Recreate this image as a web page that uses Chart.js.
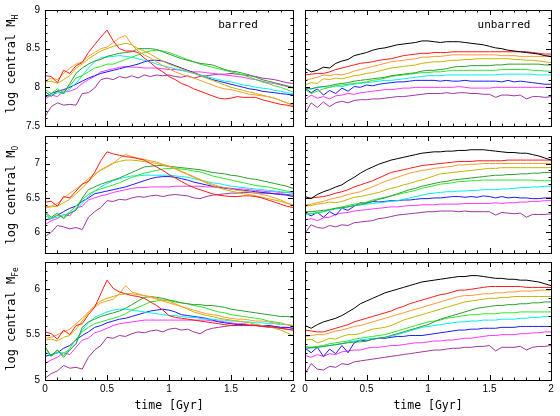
<!DOCTYPE html>
<html>
<head>
<meta charset="utf-8">
<script src="https://cdn.jsdelivr.net/npm/chart.js@4.4.1/dist/chart.umd.min.js"></script>
<style>
    body { margin: 0; width: 560px; height: 416px; background: #fff; position: relative; overflow: hidden; }
    canvas { position: absolute; }
    .txt { position: absolute; white-space: nowrap; color: #000; font-family: "DejaVu Sans Mono", monospace; transform: translate(-50%, -50%); }
    .ytitle { font-size: 12px; transform: translate(-50%, -50%) rotate(-90deg); }
    .ytitle sub { font-size: 8px; }
    .xtitle { font-size: 11.5px; }
    .tag { font-size: 11px; }
</style>
</head>
<body>
<canvas id="hBar" width="300" height="132" style="left:0;top:0"></canvas>
<canvas id="hUnb" width="260" height="132" style="left:300px;top:0"></canvas>
<canvas id="oBar" width="300" height="127" style="left:0;top:132px"></canvas>
<canvas id="oUnb" width="260" height="127" style="left:300px;top:132px"></canvas>
<canvas id="feBar" width="300" height="157" style="left:0;top:259px"></canvas>
<canvas id="feUnb" width="260" height="157" style="left:300px;top:259px"></canvas>

<div class="txt ytitle" style="left:12px;top:64px">log central M<sub>H</sub></div>
<div class="txt ytitle" style="left:12px;top:195px">log central M<sub>O</sub></div>
<div class="txt ytitle" style="left:12px;top:319px">log central M<sub>Fe</sub></div>
<div class="txt tag" style="left:238px;top:24px">barred</div>
<div class="txt tag" style="left:504px;top:24px">unbarred</div>
<div class="txt xtitle" style="left:169px;top:405px">time [Gyr]</div>
<div class="txt xtitle" style="left:428px;top:405px">time [Gyr]</div>

<script>
// time axis [Gyr]
const time = [0,0.05,0.1,0.15,0.2,0.25,0.3,0.35,0.4,0.45,0.5,0.55,0.6,0.65,0.7,0.75,0.8,0.85,0.9,0.95,
    1,1.05,1.1,1.15,1.2,1.25,1.3,1.35,1.4,1.45,1.5,1.55,1.6,1.65,1.7,1.75,1.8,1.85,1.9,1.95,2];

// --- log central M_H, barred ---
const hBarRed = [8.15,8.14,8.06,8.22,8.18,8.28,8.32,8.45,8.55,8.65,8.74,8.60,8.50,8.47,8.47,8.45,8.38,8.32,8.25,8.20,8.14,8.10,8.05,8.02,7.98,7.95,7.92,7.89,7.86,7.85,7.86,7.88,7.87,7.87,7.87,7.84,7.82,7.80,7.78,7.77,7.75];
const hBarOrange = [8.08,8.12,8.10,8.18,8.25,8.30,8.33,8.40,8.45,8.50,8.52,8.58,8.64,8.67,8.55,8.47,8.42,8.38,8.33,8.28,8.24,8.20,8.17,8.14,8.12,8.09,8.06,8.03,8.00,7.98,7.97,7.95,7.93,7.91,7.90,7.89,7.88,7.86,7.83,7.80,7.76];
const hBarGold = [8.07,8.08,8.05,8.10,8.15,8.25,8.30,8.37,8.42,8.47,8.50,8.53,8.55,8.57,8.55,8.50,8.47,8.43,8.38,8.34,8.30,8.27,8.24,8.21,8.18,8.15,8.12,8.09,8.06,8.03,8.00,7.98,7.96,7.94,7.92,7.90,7.88,7.86,7.83,7.80,7.77];
const hBarDkGreen = [7.95,7.88,7.95,7.92,8.05,8.18,8.25,8.30,8.34,8.36,8.40,8.42,8.44,8.45,8.46,8.50,8.50,8.50,8.49,8.46,8.43,8.40,8.37,8.35,8.33,8.31,8.30,8.29,8.26,8.23,8.21,8.20,8.18,8.16,8.13,8.10,8.08,8.06,8.04,8.02,8.00];
const hBarGreen = [7.97,7.92,7.98,7.93,8.02,8.12,8.15,8.20,8.25,8.27,8.30,8.30,8.33,8.36,8.39,8.42,8.45,8.47,8.48,8.47,8.45,8.42,8.39,8.36,8.33,8.30,8.28,8.26,8.24,8.22,8.20,8.18,8.16,8.13,8.10,8.07,8.05,8.02,8.00,7.97,7.94];
const hBarCyan = [7.93,7.90,7.93,7.92,7.98,8.05,8.15,8.25,8.33,8.38,8.39,8.40,8.41,8.40,8.39,8.37,8.35,8.33,8.30,8.28,8.26,8.24,8.22,8.20,8.18,8.16,8.14,8.12,8.10,8.08,8.07,8.05,8.03,8.02,8.00,7.99,7.98,7.96,7.95,7.93,7.92];
const hBarBlue = [7.87,7.92,7.95,7.97,8.00,8.04,8.08,8.12,8.15,8.18,8.20,8.22,8.24,8.26,8.28,8.30,8.33,8.35,8.35,8.34,8.31,8.28,8.25,8.22,8.19,8.16,8.13,8.10,8.08,8.06,8.04,8.02,8.00,7.98,7.97,7.95,7.94,7.93,7.92,7.91,7.90];
const hBarMagenta = [7.85,7.90,7.88,7.95,7.95,7.98,8.05,8.10,8.14,8.20,8.22,8.24,8.26,8.27,8.26,8.26,8.25,8.25,8.25,8.24,8.23,8.23,8.22,8.21,8.20,8.20,8.19,8.18,8.17,8.16,8.15,8.14,8.13,8.11,8.10,8.08,8.06,8.05,8.03,8.01,7.99];
const hBarPurple = [7.62,7.75,7.80,7.77,7.78,7.77,7.92,7.93,7.99,8.10,8.12,8.10,8.14,8.12,8.15,8.12,8.16,8.14,8.16,8.15,8.16,8.14,8.13,8.15,8.12,8.14,8.15,8.16,8.17,8.17,8.18,8.17,8.16,8.15,8.14,8.12,8.11,8.10,8.08,8.06,8.05];

// --- log central M_H, unbarred ---
const hUnbBlack = [8.25,8.20,8.22,8.26,8.25,8.31,8.34,8.36,8.41,8.43,8.45,8.48,8.50,8.51,8.53,8.55,8.56,8.57,8.58,8.60,8.60,8.59,8.58,8.59,8.59,8.59,8.58,8.57,8.56,8.55,8.53,8.51,8.50,8.48,8.47,8.46,8.45,8.44,8.43,8.41,8.40];
const hUnbRed = [8.16,8.17,8.18,8.18,8.20,8.23,8.25,8.27,8.29,8.31,8.32,8.33,8.35,8.36,8.37,8.39,8.41,8.42,8.43,8.44,8.44,8.45,8.45,8.45,8.46,8.46,8.46,8.46,8.46,8.46,8.46,8.46,8.46,8.46,8.46,8.46,8.46,8.45,8.44,8.43,8.43];
const hUnbOrange = [8.09,8.11,8.13,8.16,8.15,8.17,8.16,8.18,8.21,8.23,8.25,8.27,8.29,8.31,8.33,8.34,8.35,8.36,8.37,8.39,8.39,8.40,8.40,8.41,8.42,8.42,8.42,8.42,8.42,8.42,8.42,8.42,8.41,8.41,8.41,8.40,8.40,8.40,8.40,8.40,8.40];
const hUnbGold = [8.03,8.06,8.05,8.11,8.10,8.12,8.11,8.13,8.15,8.16,8.18,8.19,8.21,8.23,8.25,8.26,8.27,8.28,8.29,8.31,8.32,8.33,8.33,8.34,8.35,8.35,8.36,8.36,8.37,8.37,8.37,8.37,8.37,8.37,8.36,8.36,8.35,8.35,8.34,8.33,8.32];
const hUnbDkGreen = [7.99,7.98,8.00,8.01,8.02,8.04,8.05,8.06,8.08,8.09,8.10,8.11,8.12,8.13,8.15,8.16,8.17,8.18,8.19,8.21,8.22,8.22,8.23,8.24,8.26,8.27,8.27,8.28,8.28,8.28,8.28,8.29,8.29,8.30,8.30,8.30,8.30,8.30,8.30,8.29,8.29];
const hUnbGreen = [7.97,7.92,7.95,7.98,8.00,8.02,8.03,8.04,8.05,8.06,8.07,8.09,8.10,8.12,8.14,8.15,8.16,8.17,8.18,8.19,8.19,8.20,8.20,8.21,8.22,8.22,8.22,8.22,8.22,8.22,8.22,8.22,8.23,8.23,8.23,8.23,8.23,8.22,8.22,8.21,8.21];
const hUnbCyan = [7.99,7.98,8.00,8.01,8.00,8.02,8.01,8.03,8.04,8.05,8.06,8.07,8.08,8.09,8.09,8.10,8.11,8.12,8.13,8.14,8.15,8.15,8.15,8.16,8.16,8.16,8.16,8.16,8.16,8.16,8.16,8.16,8.17,8.17,8.17,8.17,8.17,8.17,8.16,8.16,8.16];
const hUnbBlue = [7.99,7.93,7.98,7.90,7.96,7.92,7.99,7.95,8.01,8.00,8.03,8.02,8.04,8.05,8.06,8.07,8.07,8.08,8.09,8.09,8.09,8.09,8.08,8.09,8.08,8.08,8.09,8.08,8.08,8.08,8.08,8.08,8.07,8.09,8.07,8.08,8.07,8.06,8.05,8.04,8.04];
const hUnbMagenta = [7.84,7.90,7.86,7.88,7.85,7.89,7.90,7.92,7.91,7.93,7.94,7.95,7.96,7.97,7.97,7.98,7.99,7.99,8.00,8.00,8.00,8.00,8.00,8.00,8.00,8.01,8.00,7.99,7.99,7.99,7.99,8.00,8.00,8.00,8.00,8.00,8.00,8.00,8.00,8.00,8.00];
const hUnbPurple = [7.66,7.80,7.74,7.81,7.75,7.80,7.82,7.80,7.83,7.84,7.84,7.85,7.85,7.86,7.87,7.88,7.88,7.89,7.90,7.91,7.92,7.92,7.92,7.93,7.92,7.93,7.93,7.92,7.92,7.91,7.91,7.87,7.90,7.90,7.89,7.90,7.85,7.88,7.88,7.87,7.88];

// --- log central M_O, barred ---
const oBarRed = [6.44,6.45,6.38,6.52,6.50,6.60,6.70,6.74,6.87,7.04,7.17,7.14,7.12,7.10,7.09,7.07,7.05,7.00,6.95,6.90,6.84,6.79,6.74,6.69,6.65,6.62,6.59,6.56,6.54,6.53,6.52,6.52,6.53,6.53,6.52,6.50,6.47,6.44,6.41,6.38,6.36];
const oBarOrange = [6.37,6.38,6.42,6.50,6.57,6.63,6.70,6.78,6.85,6.90,6.95,7.00,7.08,7.13,7.10,7.08,7.06,7.04,7.02,6.99,6.96,6.93,6.89,6.85,6.81,6.77,6.73,6.70,6.67,6.65,6.63,6.61,6.60,6.59,6.57,6.55,6.53,6.50,6.47,6.43,6.40];
const oBarGold = [6.36,6.37,6.38,6.43,6.48,6.56,6.64,6.74,6.83,6.91,6.96,7.01,7.03,7.05,7.05,7.04,7.03,7.02,7.00,6.98,6.96,6.92,6.88,6.84,6.80,6.76,6.72,6.68,6.65,6.62,6.60,6.58,6.56,6.55,6.53,6.51,6.49,6.47,6.45,6.42,6.40];
const oBarDkGreen = [6.30,6.22,6.28,6.20,6.28,6.32,6.50,6.62,6.66,6.70,6.73,6.76,6.79,6.83,6.87,6.91,6.95,6.96,6.97,6.97,6.96,6.95,6.94,6.93,6.92,6.91,6.89,6.87,6.86,6.85,6.83,6.82,6.80,6.78,6.77,6.75,6.73,6.71,6.69,6.67,6.64];
const oBarGreen = [6.28,6.20,6.25,6.22,6.30,6.38,6.48,6.55,6.60,6.63,6.66,6.69,6.72,6.76,6.80,6.83,6.86,6.88,6.90,6.92,6.93,6.93,6.92,6.91,6.89,6.88,6.85,6.82,6.80,6.78,6.76,6.74,6.72,6.70,6.68,6.67,6.66,6.64,6.62,6.60,6.59];
const oBarCyan = [6.24,6.20,6.22,6.25,6.28,6.33,6.42,6.52,6.60,6.66,6.71,6.75,6.78,6.80,6.82,6.82,6.83,6.83,6.83,6.83,6.83,6.82,6.81,6.80,6.78,6.76,6.74,6.72,6.71,6.69,6.67,6.66,6.65,6.64,6.63,6.62,6.61,6.60,6.59,6.58,6.57];
const oBarBlue = [6.18,6.20,6.25,6.30,6.35,6.38,6.45,6.50,6.56,6.58,6.60,6.62,6.64,6.66,6.69,6.72,6.75,6.78,6.80,6.81,6.81,6.80,6.78,6.76,6.73,6.71,6.69,6.67,6.66,6.64,6.63,6.62,6.61,6.60,6.59,6.58,6.57,6.56,6.55,6.54,6.52];
const oBarMagenta = [6.11,6.17,6.20,6.26,6.24,6.35,6.38,6.47,6.50,6.53,6.55,6.58,6.60,6.62,6.64,6.65,6.65,6.66,6.66,6.66,6.66,6.67,6.67,6.67,6.67,6.67,6.66,6.66,6.65,6.65,6.64,6.63,6.63,6.62,6.61,6.60,6.59,6.59,6.58,6.58,6.57];
const oBarPurple = [5.94,6.00,6.10,6.08,6.05,6.07,6.04,6.22,6.30,6.36,6.46,6.45,6.48,6.47,6.50,6.52,6.51,6.53,6.54,6.52,6.54,6.55,6.54,6.53,6.50,6.49,6.52,6.54,6.55,6.56,6.57,6.57,6.58,6.58,6.57,6.57,6.57,6.56,6.56,6.55,6.54];

// --- log central M_O, unbarred ---
const oUnbBlack = [6.52,6.49,6.55,6.59,6.62,6.66,6.69,6.75,6.80,6.86,6.91,6.95,6.99,7.02,7.05,7.07,7.09,7.11,7.13,7.15,7.16,7.17,7.17,7.18,7.18,7.19,7.19,7.20,7.20,7.20,7.19,7.18,7.17,7.16,7.16,7.15,7.15,7.13,7.11,7.08,7.05];
const oUnbRed = [6.49,6.50,6.51,6.52,6.54,6.57,6.59,6.62,6.66,6.69,6.72,6.75,6.79,6.83,6.87,6.89,6.91,6.93,6.95,6.97,6.98,6.99,7.00,7.01,7.02,7.03,7.03,7.03,7.04,7.04,7.04,7.04,7.04,7.05,7.05,7.05,7.05,7.05,7.05,7.05,7.05];
const oUnbOrange = [6.40,6.41,6.43,6.45,6.48,6.50,6.52,6.55,6.57,6.59,6.63,6.66,6.70,6.74,6.77,6.80,6.83,6.86,6.88,6.90,6.91,6.93,6.94,6.95,6.96,6.98,6.98,6.99,6.99,7.00,7.00,7.00,7.00,7.00,7.00,7.00,7.00,7.00,7.00,7.00,7.00];
const oUnbGold = [6.38,6.39,6.41,6.42,6.44,6.43,6.45,6.48,6.51,6.52,6.54,6.56,6.58,6.61,6.64,6.66,6.69,6.71,6.74,6.76,6.79,6.82,6.85,6.86,6.87,6.88,6.89,6.90,6.91,6.92,6.93,6.93,6.94,6.94,6.94,6.94,6.94,6.94,6.94,6.94,6.94];
const oUnbDkGreen = [6.30,6.30,6.31,6.32,6.33,6.35,6.36,6.37,6.39,6.40,6.43,6.45,6.48,6.50,6.53,6.56,6.59,6.62,6.64,6.67,6.69,6.71,6.73,6.74,6.76,6.77,6.78,6.79,6.80,6.81,6.82,6.83,6.83,6.84,6.84,6.85,6.85,6.86,6.86,6.87,6.87];
const oUnbGreen = [6.28,6.27,6.29,6.30,6.33,6.35,6.37,6.39,6.41,6.42,6.44,6.47,6.49,6.51,6.53,6.55,6.57,6.59,6.61,6.64,6.66,6.68,6.70,6.71,6.72,6.74,6.74,6.75,6.75,6.76,6.76,6.76,6.76,6.76,6.76,6.76,6.76,6.76,6.75,6.75,6.75];
const oUnbCyan = [6.25,6.27,6.28,6.30,6.32,6.34,6.35,6.37,6.39,6.40,6.41,6.42,6.43,6.44,6.45,6.46,6.48,6.50,6.52,6.54,6.56,6.57,6.58,6.59,6.59,6.60,6.60,6.61,6.61,6.62,6.62,6.62,6.63,6.63,6.64,6.65,6.65,6.66,6.66,6.67,6.67];
const oUnbBlue = [6.28,6.24,6.29,6.22,6.30,6.25,6.35,6.32,6.38,6.43,6.42,6.45,6.44,6.45,6.46,6.46,6.47,6.47,6.48,6.49,6.49,6.50,6.50,6.51,6.52,6.52,6.51,6.52,6.51,6.53,6.52,6.50,6.52,6.50,6.51,6.50,6.50,6.49,6.49,6.50,6.50];
const oUnbMagenta = [6.18,6.20,6.17,6.21,6.22,6.26,6.28,6.29,6.31,6.32,6.33,6.34,6.35,6.36,6.37,6.37,6.38,6.39,6.39,6.40,6.40,6.40,6.41,6.41,6.41,6.41,6.42,6.42,6.42,6.42,6.42,6.43,6.42,6.43,6.43,6.44,6.44,6.45,6.45,6.46,6.46];
const oUnbPurple = [5.99,6.11,6.07,6.06,6.10,6.08,6.11,6.10,6.14,6.15,6.16,6.17,6.20,6.21,6.23,6.25,6.26,6.27,6.28,6.29,6.30,6.30,6.31,6.31,6.31,6.30,6.31,6.30,6.30,6.30,6.30,6.25,6.29,6.28,6.27,6.28,6.22,6.26,6.26,6.26,6.27];

// --- log central M_Fe, barred ---
const feBarRed = [5.53,5.51,5.45,5.55,5.50,5.60,5.62,5.72,5.80,5.95,6.10,6.01,5.97,5.95,5.93,5.92,5.90,5.86,5.82,5.77,5.71,5.69,5.68,5.67,5.66,5.65,5.64,5.63,5.62,5.61,5.60,5.60,5.60,5.60,5.60,5.59,5.59,5.58,5.57,5.56,5.55];
const feBarOrange = [5.46,5.47,5.50,5.53,5.56,5.62,5.68,5.75,5.80,5.85,5.87,5.89,5.95,6.04,5.97,5.95,5.93,5.91,5.89,5.87,5.85,5.83,5.81,5.79,5.77,5.75,5.73,5.72,5.71,5.69,5.68,5.67,5.67,5.66,5.65,5.65,5.64,5.63,5.62,5.61,5.60];
const feBarGold = [5.44,5.45,5.43,5.47,5.49,5.56,5.65,5.74,5.82,5.87,5.90,5.92,5.94,5.95,5.95,5.94,5.93,5.92,5.90,5.88,5.87,5.84,5.81,5.78,5.75,5.73,5.71,5.70,5.68,5.67,5.66,5.65,5.64,5.63,5.61,5.60,5.59,5.57,5.55,5.52,5.49];
const feBarDkGreen = [5.37,5.26,5.33,5.25,5.33,5.40,5.58,5.64,5.67,5.70,5.72,5.74,5.76,5.79,5.83,5.87,5.91,5.92,5.91,5.90,5.88,5.86,5.85,5.84,5.83,5.83,5.82,5.82,5.81,5.80,5.78,5.77,5.76,5.75,5.74,5.73,5.72,5.71,5.70,5.70,5.69];
const feBarGreen = [5.35,5.27,5.33,5.27,5.35,5.45,5.53,5.58,5.62,5.64,5.66,5.68,5.70,5.73,5.77,5.80,5.83,5.86,5.87,5.88,5.88,5.87,5.85,5.84,5.82,5.81,5.79,5.77,5.75,5.74,5.72,5.71,5.70,5.69,5.68,5.67,5.65,5.64,5.63,5.61,5.60];
const feBarCyan = [5.31,5.27,5.30,5.30,5.33,5.40,5.55,5.63,5.69,5.72,5.75,5.77,5.78,5.78,5.77,5.76,5.75,5.74,5.73,5.72,5.71,5.71,5.70,5.69,5.69,5.68,5.67,5.67,5.66,5.66,5.65,5.65,5.64,5.64,5.63,5.63,5.62,5.62,5.61,5.61,5.60];
const feBarBlue = [5.26,5.28,5.30,5.35,5.38,5.44,5.49,5.53,5.58,5.60,5.63,5.65,5.67,5.68,5.70,5.72,5.74,5.76,5.77,5.78,5.77,5.75,5.72,5.71,5.70,5.69,5.68,5.66,5.64,5.63,5.62,5.61,5.61,5.60,5.60,5.60,5.60,5.59,5.58,5.58,5.57];
const feBarMagenta = [5.18,5.22,5.25,5.30,5.28,5.36,5.44,5.46,5.52,5.54,5.57,5.60,5.62,5.63,5.64,5.65,5.66,5.66,5.66,5.66,5.66,5.66,5.66,5.66,5.66,5.66,5.66,5.65,5.65,5.64,5.63,5.62,5.62,5.61,5.61,5.60,5.60,5.59,5.58,5.58,5.57];
const feBarPurple = [5.02,5.07,5.10,5.16,5.13,5.14,5.12,5.25,5.33,5.38,5.47,5.46,5.49,5.48,5.51,5.53,5.52,5.54,5.55,5.53,5.56,5.57,5.55,5.56,5.53,5.51,5.55,5.57,5.58,5.59,5.60,5.60,5.61,5.60,5.60,5.59,5.58,5.58,5.57,5.56,5.55];

// --- log central M_Fe, unbarred ---
const feUnbBlack = [5.60,5.57,5.61,5.64,5.66,5.68,5.71,5.75,5.79,5.84,5.87,5.90,5.93,5.96,5.98,6.00,6.02,6.04,6.06,6.08,6.09,6.10,6.11,6.12,6.13,6.14,6.14,6.15,6.15,6.14,6.13,6.12,6.12,6.11,6.11,6.10,6.10,6.09,6.08,6.06,6.04];
const feUnbRed = [5.55,5.54,5.53,5.53,5.55,5.57,5.59,5.61,5.64,5.66,5.68,5.70,5.72,5.74,5.76,5.79,5.81,5.84,5.86,5.88,5.90,5.92,5.94,5.95,5.97,5.99,5.99,6.00,6.01,6.02,6.03,6.03,6.03,6.03,6.03,6.03,6.02,6.02,6.02,6.02,6.02];
const feUnbOrange = [5.48,5.49,5.50,5.50,5.52,5.54,5.55,5.57,5.59,5.60,5.62,5.64,5.66,5.68,5.70,5.72,5.74,5.76,5.78,5.80,5.82,5.84,5.86,5.88,5.90,5.92,5.93,5.93,5.94,5.95,5.95,5.96,5.96,5.97,5.97,5.98,5.98,5.98,5.99,5.99,5.99];
const feUnbGold = [5.44,5.45,5.41,5.43,5.46,5.45,5.48,5.50,5.50,5.51,5.54,5.56,5.57,5.58,5.60,5.63,5.66,5.68,5.70,5.72,5.74,5.76,5.78,5.80,5.82,5.84,5.86,5.87,5.88,5.89,5.90,5.90,5.91,5.91,5.92,5.92,5.92,5.92,5.92,5.92,5.92];
const feUnbDkGreen = [5.35,5.36,5.36,5.37,5.38,5.39,5.40,5.41,5.42,5.42,5.43,5.45,5.46,5.47,5.49,5.51,5.53,5.55,5.57,5.59,5.61,5.64,5.67,5.69,5.71,5.73,5.75,5.77,5.79,5.80,5.81,5.82,5.82,5.83,5.83,5.84,5.84,5.85,5.85,5.86,5.86];
const feUnbGreen = [5.37,5.36,5.37,5.38,5.40,5.41,5.42,5.43,5.45,5.46,5.47,5.48,5.49,5.50,5.52,5.54,5.56,5.58,5.60,5.62,5.64,5.65,5.66,5.68,5.69,5.70,5.71,5.72,5.72,5.73,5.73,5.73,5.74,5.74,5.74,5.75,5.75,5.75,5.75,5.75,5.75];
const feUnbCyan = [5.35,5.35,5.36,5.37,5.38,5.39,5.40,5.42,5.43,5.44,5.45,5.46,5.46,5.47,5.48,5.50,5.52,5.54,5.56,5.58,5.59,5.60,5.61,5.62,5.63,5.64,5.64,5.65,5.65,5.66,5.66,5.66,5.67,5.67,5.67,5.68,5.68,5.69,5.69,5.70,5.70];
const feUnbBlue = [5.35,5.30,5.36,5.26,5.34,5.29,5.38,5.30,5.41,5.44,5.43,5.45,5.46,5.46,5.47,5.48,5.48,5.49,5.49,5.49,5.50,5.51,5.52,5.53,5.54,5.55,5.55,5.56,5.56,5.57,5.57,5.57,5.58,5.58,5.58,5.59,5.59,5.59,5.59,5.59,5.59];
const feUnbMagenta = [5.27,5.25,5.28,5.26,5.29,5.28,5.31,5.32,5.33,5.33,5.35,5.36,5.36,5.37,5.38,5.38,5.39,5.40,5.41,5.41,5.42,5.43,5.43,5.44,5.44,5.45,5.46,5.46,5.47,5.48,5.49,5.49,5.50,5.50,5.50,5.51,5.51,5.52,5.52,5.53,5.53];
const feUnbPurple = [5.07,5.18,5.12,5.11,5.15,5.14,5.18,5.17,5.20,5.21,5.22,5.23,5.24,5.25,5.26,5.27,5.28,5.29,5.30,5.31,5.32,5.33,5.33,5.34,5.35,5.35,5.36,5.36,5.37,5.37,5.38,5.32,5.36,5.36,5.36,5.37,5.33,5.36,5.37,5.37,5.38];

const barColors = ['#ff1a1a', '#ff9a30', '#c8b400', '#2e9e2e', '#2ee62e', '#00f0f0', '#1a1aff', '#ff36ff', '#a035a0'];
const unbColors = ['#000000'].concat(barColors);

// frame with inward ticks (PGPLOT style), labels only where asked
const frameTicks = {
    id: 'frameTicks',
    afterDraw(chart, args, opts) {
        const ctx = chart.ctx;
        const a = chart.chartArea;
        const xs = chart.scales.x, ys = chart.scales.y;
        const L = Math.round(a.left), R = Math.round(a.right), T = Math.round(a.top), B = Math.round(a.bottom);
        ctx.save();
        ctx.strokeStyle = '#000';
        ctx.lineWidth = 1;
        ctx.beginPath();
        for (let i = 0; i <= 20; i++) {
            const px = Math.round(xs.getPixelForValue(i / 10)) + 0.5;
            const len = i % 5 === 0 ? 5 : 2.5;
            ctx.moveTo(px, B); ctx.lineTo(px, B - len);
            ctx.moveTo(px, T); ctx.lineTo(px, T + len);
        }
        const lo = Math.ceil(ys.min * 10 - 1e-6), hi = Math.floor(ys.max * 10 + 1e-6);
        for (let k = lo; k <= hi; k++) {
            const py = Math.round(ys.getPixelForValue(k / 10)) + 0.5;
            const len = k % 5 === 0 ? 5 : 2.5;
            ctx.moveTo(L, py); ctx.lineTo(L + len, py);
            ctx.moveTo(R, py); ctx.lineTo(R - len, py);
        }
        ctx.stroke();
        ctx.strokeRect(L + 0.5, T + 0.5, R - L, B - T);

        ctx.fillStyle = '#000';
        ctx.font = '10px "Liberation Sans"';
        if (opts.yLabels) {
            ctx.textAlign = 'right';
            ctx.textBaseline = 'middle';
            for (let k = lo; k <= hi; k++) {
                if (k % 5 !== 0) continue;
                ctx.fillText(String(+(k / 10).toFixed(1)), L - 5, ys.getPixelForValue(k / 10));
            }
        }
        if (opts.xLabels) {
            ctx.textAlign = 'center';
            ctx.textBaseline = 'top';
            for (let i = 0; i <= 20; i += 5) {
                ctx.fillText(String(i / 10), xs.getPixelForValue(i / 10), B + 4);
            }
        }
        ctx.restore();
    }
};

function makePanel(id, lines, colors, yMin, yMax, pad, ticks) {
    new Chart(document.getElementById(id), {
        type: 'line',
        data: {
            labels: time,
            datasets: lines.map((d, i) => ({
                data: d,
                borderColor: colors[i],
                borderWidth: 1,
                pointRadius: 0,
                fill: false,
                tension: 0
            }))
        },
        options: {
            responsive: false,
            animation: false,
            layout: { padding: pad },
            scales: {
                x: { type: 'linear', min: 0, max: 2, display: false },
                y: { min: yMin, max: yMax, display: false }
            },
            plugins: {
                legend: { display: false },
                tooltip: { enabled: false },
                frameTicks: ticks
            }
        },
        plugins: [frameTicks]
    });
}

const padL = (t, b) => ({ left: 45, right: 7, top: t, bottom: b });
const padR = (t, b) => ({ left: 5, right: 9, top: t, bottom: b });

makePanel('hBar', [hBarRed, hBarOrange, hBarGold, hBarDkGreen, hBarGreen, hBarCyan, hBarBlue, hBarMagenta, hBarPurple],
    barColors, 7.5, 9, padL(10, 6), { yLabels: true, xLabels: false });
makePanel('hUnb', [hUnbBlack, hUnbRed, hUnbOrange, hUnbGold, hUnbDkGreen, hUnbGreen, hUnbCyan, hUnbBlue, hUnbMagenta, hUnbPurple],
    unbColors, 7.5, 9, padR(10, 6), { yLabels: false, xLabels: false });
makePanel('oBar', [oBarRed, oBarOrange, oBarGold, oBarDkGreen, oBarGreen, oBarCyan, oBarBlue, oBarMagenta, oBarPurple],
    barColors, 5.7, 7.4, padL(4, 6), { yLabels: true, xLabels: false });
makePanel('oUnb', [oUnbBlack, oUnbRed, oUnbOrange, oUnbGold, oUnbDkGreen, oUnbGreen, oUnbCyan, oUnbBlue, oUnbMagenta, oUnbPurple],
    unbColors, 5.7, 7.4, padR(4, 6), { yLabels: false, xLabels: false });
makePanel('feBar', [feBarRed, feBarOrange, feBarGold, feBarDkGreen, feBarGreen, feBarCyan, feBarBlue, feBarMagenta, feBarPurple],
    barColors, 5, 6.3, padL(3, 36), { yLabels: true, xLabels: true });
makePanel('feUnb', [feUnbBlack, feUnbRed, feUnbOrange, feUnbGold, feUnbDkGreen, feUnbGreen, feUnbCyan, feUnbBlue, feUnbMagenta, feUnbPurple],
    unbColors, 5, 6.3, padR(3, 36), { yLabels: false, xLabels: true });
</script>
</body>
</html>
